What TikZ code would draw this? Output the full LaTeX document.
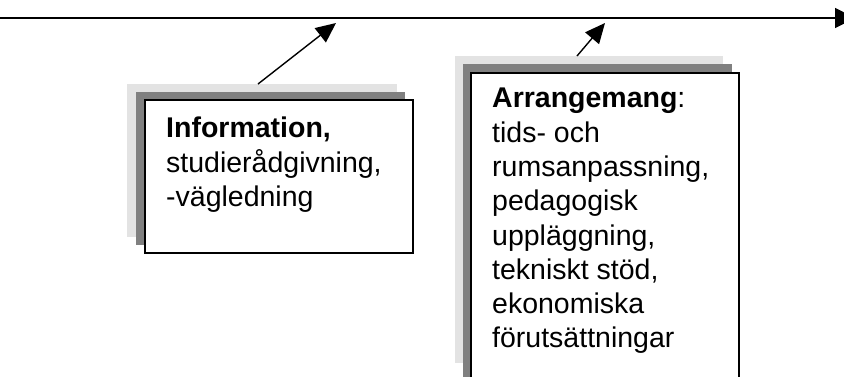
\documentclass[tikz,border=0pt]{standalone}
\usepackage{fontspec}
\setmainfont{Liberation Sans}
\usetikzlibrary{arrows.meta}
\definecolor{shadelight}{RGB}{227,227,227}
\definecolor{shadedark}{RGB}{128,128,128}
\begin{document}
\begin{tikzpicture}[x=1pt,y=-1pt,
  card/.style={anchor=north west, inner sep=0pt, outer sep=0pt},
  backcard/.style={card, fill=shadelight, draw=none},
  midcard/.style={card, fill=shadedark, draw=none},
  frontcard/.style={card, fill=white, draw=black, line width=1.5pt},
  cardtext/.style={anchor=north west, inner sep=0pt, align=left,
    font=\fontsize{28.5}{34.3}\selectfont},
  pointer/.style={line width=1.4pt, -{Triangle[length=20pt,width=18pt]}},
  timeline/.style={line width=1.8pt, -{Triangle[length=20pt,width=20pt]}}]
\useasboundingbox (0,0) rectangle (844,376);
\clip (0,0) rectangle (844,376);

% time axis
\coordinate (axisL) at (0,18);
\coordinate (axisR) at (855,18);
\draw[timeline] (axisL) -- (axisR);

% first stacked card
\node[backcard, minimum width=270pt, minimum height=153pt] (infoback) at (127,84) {};
\node[midcard, minimum width=269pt, minimum height=153pt] (infomid) at (136,92) {};
\node[frontcard, minimum width=268pt, minimum height=153pt] (infofront) at (144.75,99.75) {};
\node[cardtext] (infotext) at (166,117)
  {\textbf{Information,}\\studierådgivning,\\-vägledning};

% second stacked card
\node[backcard, minimum width=268pt, minimum height=307pt] (arrback) at (455,56) {};
\node[midcard, minimum width=269pt, minimum height=330pt] (arrmid) at (463,64) {};
\node[frontcard, minimum width=268pt, minimum height=330pt] (arrfront) at (470.75,72.75) {};
\node[cardtext] (arrtext) at (492,88)
  {\textbf{Arrangemang}:\\tids- och\\rumsanpassning,\\pedagogisk\\uppläggning,\\tekniskt stöd,\\ekonomiska\\förutsättningar};

% pointers from the cards up to the axis
\coordinate (infofoot) at (258,84);
\coordinate (infotip) at (336,23);
\draw[pointer] (infofoot) -- (infotip);
\coordinate (arrfoot) at (577,56);
\coordinate (arrtip) at (605,23);
\draw[pointer] (arrfoot) -- (arrtip);
\end{tikzpicture}
\end{document}
